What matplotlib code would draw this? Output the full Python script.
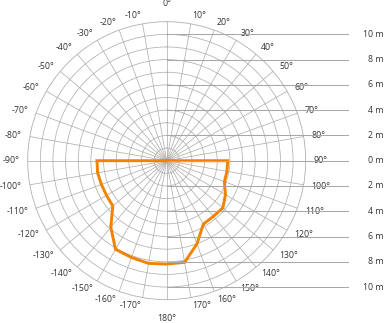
import numpy as np
import matplotlib
matplotlib.use("Agg")
import matplotlib.pyplot as plt

plt.rcParams['font.family'] = ['Open Sans', 'DejaVu Sans']

# ---- data ----
zone_angles_deg = [90, 100, 110, 120, 130, 140, 150, 160, 170, 180,
                   -170, -160, -150, -140, -130, -120, -110, -100, -90]
zone_range_m = [4.83, 4.84, 4.86, 5.37, 5.80, 5.75, 5.80, 7.00, 8.17, 8.18,
                8.25, 8.15, 8.10, 6.88, 5.57, 5.50, 5.50, 5.55, 5.52]
theta_labels = list(range(-170, 190, 10))
distance_lines = [10, 8, 6, 4, 2, 0, -2, -4, -6, -8, -10]
ring_radii = list(range(1, 11))
r_max = 11

W, H = 386, 323
fig = plt.figure(figsize=(W / 100, H / 100), dpi=100)
cx, cy, R = 166.7, 160.7, 139.0
rect = [(cx - R) / W, (H - cy - R) / H, 2 * R / W, 2 * R / H]

grid_col = '#b0b0b0'
text_col = '#333333'
fs = 6.3

ax = fig.add_axes(rect, projection='polar')
ax.set_theta_zero_location('N')
ax.set_theta_direction(-1)
ax.set_rlim(0, r_max)
ax.set_rticks(ring_radii)
ax.set_yticklabels([])
ax.set_xticks(np.deg2rad(np.arange(0, 360, 10)))
ax.set_xticklabels([])
ax.tick_params(axis='both', length=0)
ax.grid(True, color=grid_col, linewidth=0.55)
ax.spines['polar'].set_color(grid_col)
ax.spines['polar'].set_linewidth(0.6)
ax.set_facecolor('none')

# angle labels
for a in theta_labels:
    if a in (0, 180):
        ha, r = 'center', 12.45
    elif a > 0:
        ha, r = 'left', 11.65
    else:
        ha, r = 'right', 11.65
    ax.text(np.deg2rad(a), r, f"{a}\u00b0", ha=ha, va='center',
            fontsize=fs, color=text_col, clip_on=False)

# detection zone
ang = np.array(zone_angles_deg, dtype=float)
ang = np.where(ang < 0, ang + 360, ang)
th = np.deg2rad(np.concatenate([[ang[0]], ang, [ang[-1]]]))
rr = np.concatenate([[0], zone_range_m, [0]])
ax.plot(th, rr, color='#f28200', linewidth=2.1, solid_joinstyle='miter', zorder=5)

# cartesian overlay for distance lines
ax2 = fig.add_axes(rect)
ax2.set_xlim(-r_max, r_max)
ax2.set_ylim(-r_max, r_max)
ax2.axis('off')
for d in distance_lines:
    ax2.plot([0, 14.35], [d, d], color='#a8a8a8', linewidth=0.75, clip_on=False, zorder=1)
    ax2.text(17.15, d, f"{abs(d)} m", ha='right', va='center', fontsize=fs,
             color=text_col, clip_on=False)

fig.savefig('out.png', dpi=100)
